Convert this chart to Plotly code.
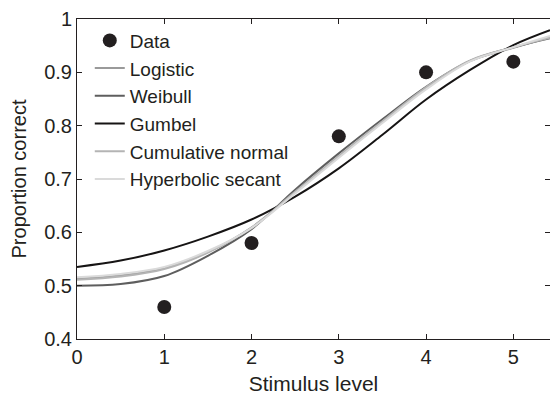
import plotly.graph_objects as go

# Data
stim = [1, 2, 3, 4, 5]
prop = [0.46, 0.58, 0.78, 0.90, 0.92]

# Fitted curves
xfit = [0, 0.5, 1, 1.5, 2, 2.5, 3, 3.5, 4, 4.5, 5, 5.42]
logistic = [0.513, 0.519, 0.533, 0.563, 0.609, 0.675, 0.742, 0.807, 0.870, 0.921, 0.946, 0.966]
weibull = [0.500, 0.503, 0.518, 0.556, 0.606, 0.680, 0.748, 0.812, 0.873, 0.921, 0.947, 0.964]
gumbel = [0.535, 0.547, 0.566, 0.592, 0.624, 0.667, 0.720, 0.783, 0.849, 0.904, 0.951, 0.979]
cumnormal = [0.511, 0.517, 0.531, 0.562, 0.609, 0.676, 0.743, 0.808, 0.872, 0.922, 0.947, 0.965]
hypsecant = [0.516, 0.522, 0.535, 0.565, 0.608, 0.673, 0.740, 0.805, 0.868, 0.920, 0.947, 0.968]

curves = [
    ("Logistic", logistic, "#9a9a9a"),
    ("Weibull", weibull, "#5e5e5e"),
    ("Gumbel", gumbel, "#161414"),
    ("Cumulative normal", cumnormal, "#b4b4b4"),
    ("Hyperbolic secant", hypsecant, "#dadada"),
]

fig = go.Figure()
fig.add_trace(go.Scatter(x=stim, y=prop, mode="markers", name="Data",
                         marker=dict(size=14, color="#231f20")))
for name, ys, col in curves:
    fig.add_trace(go.Scatter(x=xfit, y=ys, mode="lines", name=name,
                             line=dict(color=col, width=2, shape="spline")))

axis_common = dict(showline=True, linecolor="#231f20", linewidth=1, mirror="ticks",
                   ticks="inside", ticklen=5, tickcolor="#231f20", showgrid=False,
                   zeroline=False, tickfont=dict(size=20, color="#231f20"))

fig.update_layout(
    width=550, height=405,
    margin=dict(l=77, r=0, t=19, b=66),
    paper_bgcolor="white", plot_bgcolor="white",
    font=dict(family="Liberation Sans, Arial, sans-serif", color="#231f20"),
    xaxis=dict(range=[0, 5.42], tickvals=[0, 1, 2, 3, 4, 5], title_text="Stimulus level",
               title_standoff=9, title_font=dict(size=21, color="#231f20"), **axis_common),
    yaxis=dict(range=[0.4, 1.0], dtick=0.1, tick0=0.4, title_text="Proportion correct",
               title_standoff=12, title_font=dict(size=20, color="#231f20"), **axis_common),
    legend=dict(x=0.027, y=0.992, xanchor="left", yanchor="top", bgcolor="rgba(0,0,0,0)",
                font=dict(size=19, color="#231f20"), itemwidth=30, tracegroupgap=0),
    showlegend=True,
)

fig.write_html("out.html")
